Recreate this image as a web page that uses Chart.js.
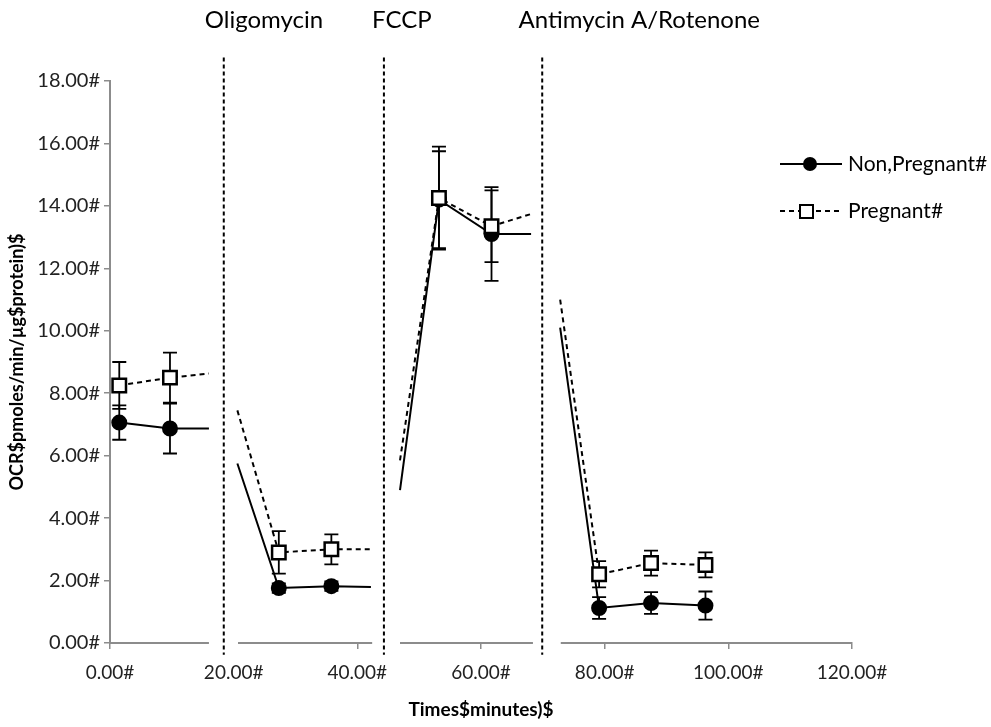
<!DOCTYPE html>
<html>
<head>
<meta charset="utf-8">
<script src="https://cdn.jsdelivr.net/npm/chart.js@4.4.1/dist/chart.umd.min.js"></script>
<style>
  body { margin: 0; background: #fff; }
  #wrap { width: 991px; height: 727px; position: relative; }
</style>
</head>
<body>
<div id="wrap"><canvas id="ocrChart"></canvas></div>
<script>
// time (minutes) for every vertex; null values break the line at the injection gaps
const times = [1.5, 9.7, 16.0, 18.4, 20.6, 27.3, 35.8, 42.2, 44.3, 46.9, 53.2, 61.7, 68.1, 69.9, 72.8, 79.1, 87.5, 96.3];
const nonPregnant = [7.06, 6.87, 6.87, null, 5.75, 1.76, 1.82, 1.79, null, 4.9, 14.2, 13.1, 13.1, null, 10.1, 1.12, 1.28, 1.2];
const pregnant = [8.25, 8.5, 8.63, null, 7.45, 2.9, 3.0, 3.0, null, 5.85, 14.25, 13.35, 13.74, null, 11.0, 2.2, 2.56, 2.5];
// 1 = a measured point (gets a marker), 0 = just a line end
const measured = [1, 1, 0, 0, 0, 1, 1, 0, 0, 0, 1, 1, 0, 0, 0, 1, 1, 1];
const errNonPregnant = [0.55, 0.8, 0, 0, 0, 0.15, 0.15, 0, 0, 0, 1.55, 1.5, 0, 0, 0, 0.35, 0.35, 0.45];
const errPregnant = [0.75, 0.8, 0, 0, 0, 0.68, 0.48, 0, 0, 0, 1.65, 1.15, 0, 0, 0, 0.42, 0.4, 0.4];

const xTickLabels = ["0.00#", "20.00#", "40.00#", "60.00#", "80.00#", "100.00#", "120.00#"];
const yTickLabels = ["0.00#", "2.00#", "4.00#", "6.00#", "8.00#", "10.00#", "12.00#", "14.00#", "16.00#", "18.00#"];

const injectionTimes = [18.4, 44.3, 69.9];
const injectionNames = ["Oligomycin", "FCCP", "Antimycin A/Rotenone"];
const injectionLabelX = [24.9, 47.2, 85.6];
const axisGaps = [[16.0, 20.7], [42.4, 46.9], [68.4, 72.9]];

const seriesNames = ["Non,Pregnant#", "Pregnant#"];

const FONT = "Lato, 'Open Sans', sans-serif";

function toPoints(vals) {
  return vals.map((v, i) => ({ x: times[i], y: v }));
}

const overlay = {
  id: "overlay",
  beforeDatasetsDraw(chart) {
    const { ctx } = chart;
    const x = chart.scales.x, y = chart.scales.y;
    ctx.save();
    ctx.strokeStyle = "#000";
    ctx.lineWidth = 1.8;
    [[nonPregnant, errNonPregnant], [pregnant, errPregnant]].forEach(([vals, errs]) => {
      vals.forEach((v, i) => {
        if (v === null || !errs[i]) return;
        const px = x.getPixelForValue(times[i]);
        const top = y.getPixelForValue(v + errs[i]);
        const bot = y.getPixelForValue(v - errs[i]);
        ctx.beginPath();
        ctx.moveTo(px, top); ctx.lineTo(px, bot);
        ctx.moveTo(px - 7, top); ctx.lineTo(px + 7, top);
        ctx.moveTo(px - 7, bot); ctx.lineTo(px + 7, bot);
        ctx.stroke();
      });
    });
    ctx.restore();
  },
  afterDraw(chart) {
    const { ctx, chartArea } = chart;
    const x = chart.scales.x, y = chart.scales.y;
    ctx.save();
    // white breaks in the x axis
    ctx.fillStyle = "#fff";
    axisGaps.forEach(([a, b]) => {
      const x1 = x.getPixelForValue(a), x2 = x.getPixelForValue(b);
      ctx.fillRect(x1, chartArea.bottom - 6, x2 - x1, 16);
    });
    // dashed injection lines
    ctx.strokeStyle = "#000";
    ctx.lineWidth = 2;
    ctx.setLineDash([4, 3]);
    injectionTimes.forEach((t) => {
      const px = x.getPixelForValue(t);
      ctx.beginPath();
      ctx.moveTo(px, y.getPixelForValue(18.75));
      ctx.lineTo(px, y.getPixelForValue(-0.38));
      ctx.stroke();
    });
    ctx.setLineDash([]);
    // injection names
    ctx.fillStyle = "#000";
    ctx.font = "24px " + FONT;
    ctx.textAlign = "center";
    ctx.textBaseline = "middle";
    injectionNames.forEach((name, i) => {
      ctx.fillText(name, x.getPixelForValue(injectionLabelX[i]), 20);
    });
    // legend
    ctx.font = "21px " + FONT;
    ctx.textAlign = "left";
    ctx.lineWidth = 2;
    ctx.beginPath();
    ctx.moveTo(780, 164); ctx.lineTo(842, 164);
    ctx.stroke();
    ctx.beginPath();
    ctx.arc(810, 164, 7, 0, Math.PI * 2);
    ctx.fill();
    ctx.fillText(seriesNames[0], 848, 164);
    ctx.setLineDash([5, 4]);
    ctx.beginPath();
    ctx.moveTo(780, 211); ctx.lineTo(840, 211);
    ctx.stroke();
    ctx.setLineDash([]);
    ctx.fillStyle = "#fff";
    ctx.fillRect(800, 205, 13, 13);
    ctx.strokeRect(800, 205, 13, 13);
    ctx.fillStyle = "#000";
    ctx.fillText(seriesNames[1], 848, 211);
    ctx.restore();
  }
};

const ctx = document.getElementById("ocrChart").getContext("2d");
new Chart(ctx, {
  type: "line",
  data: {
    datasets: [
      {
        label: seriesNames[0],
        data: toPoints(nonPregnant),
        borderColor: "#000",
        borderWidth: 2,
        pointStyle: "circle",
        pointRadius: measured.map((m) => (m ? 7 : 0)),
        pointBackgroundColor: "#000",
        pointBorderColor: "#000",
        tension: 0,
        order: 2,
      },
      {
        label: seriesNames[1],
        data: toPoints(pregnant),
        borderColor: "#000",
        borderWidth: 2,
        borderDash: [5, 4],
        pointStyle: "rect",
        pointRadius: measured.map((m) => (m ? 9.5 : 0)),
        pointBackgroundColor: "#fff",
        pointBorderColor: "#000",
        pointBorderWidth: 2.5,
        tension: 0,
        order: 1,
      },
    ],
  },
  options: {
    responsive: true,
    maintainAspectRatio: false,
    animation: false,
    spanGaps: false,
    layout: { padding: { top: 81, right: 139, left: 0, bottom: 0 } },
    plugins: { legend: { display: false }, tooltip: { enabled: false } },
    scales: {
      x: {
        type: "linear",
        min: 0,
        max: 120,
        afterFit: (s) => { s.height = 84; },
        afterBuildTicks: (s) => { s.ticks = xTickLabels.map((_, i) => ({ value: i * 20 })); },
        ticks: {
          callback: (v, i) => xTickLabels[i],
          font: { family: FONT, size: 19 },
          color: "#222",
          padding: 12,
          maxRotation: 0,
        },
        grid: { drawOnChartArea: false, tickLength: 6, color: "#8c8c8c", lineWidth: 1.5 },
        border: { color: "#8c8c8c", width: 2 },
        title: {
          display: true,
          text: "Times$minutes)$",
          font: { family: FONT, size: 19, weight: "bold" },
          color: "#000",
          padding: { top: 4, bottom: 6 },
        },
      },
      y: {
        min: 0,
        max: 18,
        afterFit: (s) => { s.width = 110; },
        afterBuildTicks: (s) => { s.ticks = yTickLabels.map((_, i) => ({ value: i * 2 })); },
        ticks: {
          callback: (v, i) => yTickLabels[i],
          font: { family: FONT, size: 20 },
          color: "#222",
          padding: 4,
        },
        grid: { drawOnChartArea: false, tickLength: 6, color: "#8c8c8c", lineWidth: 1.5 },
        border: { color: "#8c8c8c", width: 2 },
        title: {
          display: true,
          text: "OCR$pmoles/min/µg$protein)$",
          font: { family: FONT, size: 18, weight: "bold" },
          color: "#000",
          padding: { top: 6, bottom: 4 },
        },
      },
    },
  },
  plugins: [overlay],
});
</script>
</body>
</html>
